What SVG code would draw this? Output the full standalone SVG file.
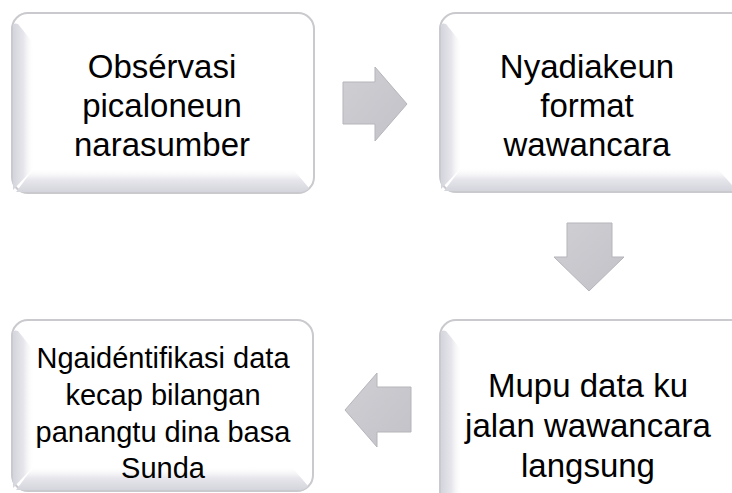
<svg xmlns="http://www.w3.org/2000/svg" width="732" height="493" viewBox="0 0 732 493">
  <defs>
    <linearGradient id="lbevel" x1="0" y1="0" x2="1" y2="0">
      <stop offset="0" stop-color="#d4d4dc"/>
      <stop offset="0.5" stop-color="#e6e6ec"/>
      <stop offset="1" stop-color="#ffffff" stop-opacity="0"/>
    </linearGradient>
    <linearGradient id="bbevel" x1="0" y1="1" x2="0" y2="0">
      <stop offset="0" stop-color="#d4d4dc"/>
      <stop offset="0.5" stop-color="#e6e6ec"/>
      <stop offset="1" stop-color="#ffffff" stop-opacity="0"/>
    </linearGradient>
    <linearGradient id="arrowg" x1="0" y1="0" x2="1" y2="1">
      <stop offset="0" stop-color="#cfcfd4"/>
      <stop offset="1" stop-color="#c2c2c8"/>
    </linearGradient>
  </defs>
  <style>
    .box { fill: #ffffff; stroke: #c9c9ce; stroke-width: 2; }
    .lb { fill: url(#lbevel); }
    .bb { fill: url(#bbevel); }
    .arrow { fill: url(#arrowg); stroke: #b5b5bb; stroke-width: 1; }
    .big { font-family: "Liberation Sans", Arial, sans-serif; font-size: 33px; fill: #000; text-anchor: middle; }
    .small { font-family: "Liberation Sans", Arial, sans-serif; font-size: 29px; fill: #000; text-anchor: middle; }
  </style>
  <rect width="732" height="493" fill="#ffffff"/>

  <g id="node1">
    <rect class="box" x="12" y="13" width="302" height="180" rx="16"/>
    <path class="lb" d="M13,27 Q13,22 18,24 L34,44 L34,168 L13,190 Z"/>
    <path class="bb" d="M16,192 L34,168 L292,168 L309,188 Q306,192 300,192 Z"/>
    <text class="big" x="162" y="78">Obsérvasi</text>
    <text class="big" x="162" y="117">picaloneun</text>
    <text class="big" x="162" y="156">narasumber</text>
  </g>

  <g id="node2">
    <rect class="box" x="440" y="13" width="310" height="179" rx="16"/>
    <path class="lb" d="M441,27 Q441,22 446,24 L462,44 L462,167 L441,189 Z"/>
    <path class="bb" d="M444,191 L462,167 L716,167 L732,185 L732,191 Z"/>
    <text class="big" x="587" y="78">Nyadiakeun</text>
    <text class="big" x="587" y="117">format</text>
    <text class="big" x="587" y="156">wawancara</text>
  </g>

  <g id="node3">
    <rect class="box" x="440" y="320" width="310" height="190" rx="16"/>
    <path class="lb" d="M441,334 Q441,329 446,331 L462,351 L462,493 L441,493 Z"/>
    <text class="big" x="588" y="397">Mupu data ku</text>
    <text class="big" x="588" y="437">jalan wawancara</text>
    <text class="big" x="588" y="477">langsung</text>
  </g>

  <g id="node4">
    <rect class="box" x="12" y="320" width="301" height="171" rx="16"/>
    <path class="lb" d="M13,334 Q13,329 18,331 L34,351 L34,466 L13,488 Z"/>
    <path class="bb" d="M16,490 L34,466 L291,466 L308,486 Q305,490 299,490 Z"/>
    <text class="small" x="163" y="368">Ngaidéntifikasi data</text>
    <text class="small" x="163" y="405">kecap bilangan</text>
    <text class="small" x="163" y="442">panangtu dina basa</text>
    <text class="small" x="163" y="478">Sunda</text>
  </g>

  <g id="connectors">
    <polygon class="arrow" points="343,82 375,82 375,67 407,104 375,141 375,124 343,124"/>
    <polygon class="arrow" points="567,223 612,223 612,257 624,257 589,291 554,257 567,257"/>
    <polygon class="arrow" points="411,387 377,387 377,373 345,410 377,447 377,432 411,432"/>
  </g>
</svg>
